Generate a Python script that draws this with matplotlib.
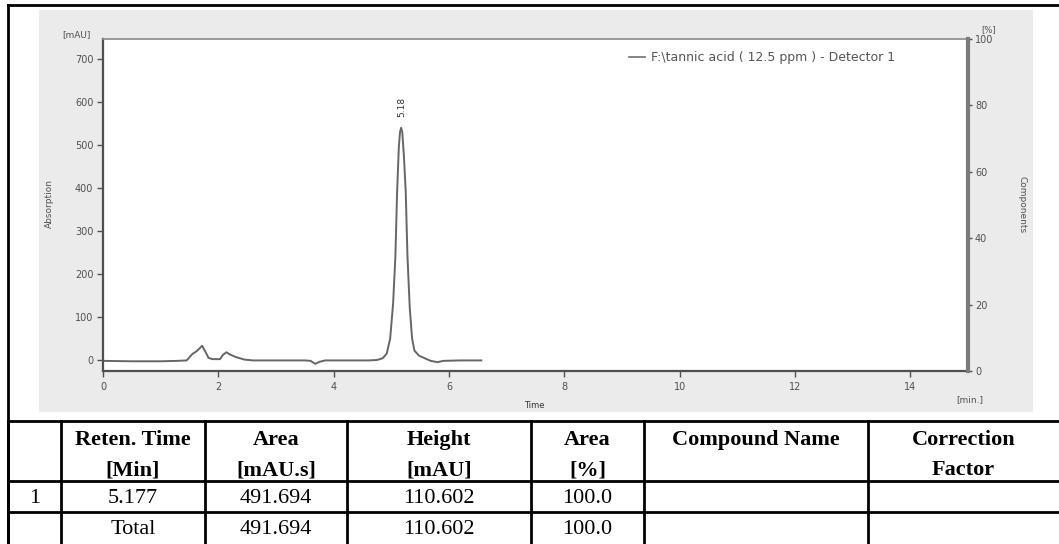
import matplotlib.pyplot as plt
from matplotlib.lines import Line2D
from matplotlib.patches import Rectangle

W, H = 1059, 544

# chromatogram trace (time in min, signal in mAU)
time_min = [0.0, 0.5, 1.0, 1.3, 1.45, 1.55, 1.62, 1.72, 1.78, 1.83, 1.9, 2.03,
            2.08, 2.14, 2.2, 2.3, 2.45, 2.6, 3.0, 3.5, 3.6, 3.68, 3.76, 3.85,
            4.2, 4.6, 4.75, 4.85, 4.92, 4.98, 5.03, 5.07, 5.10, 5.13, 5.15,
            5.17, 5.19, 5.22, 5.25, 5.28, 5.32, 5.36, 5.40, 5.48, 5.58, 5.68,
            5.80, 5.90, 6.2, 6.56]
signal_mau = [-2, -3, -3, -2, -1, 14, 20, 33, 18, 5, 2, 2,
              12, 18, 13, 7, 1, -1, -1, -1, -2, -9, -4, -1,
              -1, -1, 0, 4, 15, 50, 130, 240, 390, 495, 530,
              540, 530, 470, 390, 240, 120, 50, 22, 10, 4, -2,
              -5, -2, -1, -1]
peak_time = 5.18
peak_height = 540

x_ticks = [0, 2, 4, 6, 8, 10, 12, 14]
y_ticks = [0, 100, 200, 300, 400, 500, 600, 700]
pct_ticks = [0, 20, 40, 60, 80, 100]

header_top = ["", "Reten. Time", "Area", "Height", "Area", "Compound Name", "Correction"]
header_bot = ["", "[Min]", "[mAU.s]", "[mAU]", "[%]", "", "Factor"]
row_peak = ["1", "5.177", "491.694", "110.602", "100.0", "", ""]
row_total = ["", "Total", "491.694", "110.602", "100.0", "", ""]
col_edges = [8, 61, 205, 347, 531, 644, 868, 1059]


def fx(px):
    return px / W


def fy(py):
    return 1 - py / H


fig = plt.figure(figsize=(W / 100, H / 100), dpi=100)
fig.patch.set_facecolor("white")

# grey panel behind the chart
fig.add_artist(Rectangle((fx(39), fy(412)), fx(1033) - fx(39), fy(10) - fy(412),
                         transform=fig.transFigure, facecolor="#ebebeb",
                         edgecolor="none", zorder=0))

ax = fig.add_axes([fx(103), fy(371), fx(968) - fx(103), fy(39) - fy(371)])
ax.set_facecolor("white")
ax.plot(time_min, signal_mau, color="#666666", lw=1.4)
ax.set_xlim(0, 15)
ax.set_ylim(-25.6, 746.6)
ax.set_xticks(x_ticks)
ax.set_yticks(y_ticks)
tick_col = "#505050"
ax.tick_params(axis="both", colors=tick_col, labelsize=7, length=4, width=1,
               direction="out", pad=3)
ax.tick_params(axis="x", pad=4)
for s in ["left", "bottom"]:
    ax.spines[s].set_color("#505050")
    ax.spines[s].set_linewidth(1.6)
ax.spines["top"].set_color("#8a8a8a")
ax.spines["top"].set_linewidth(1.2)
ax.spines["right"].set_visible(False)

ax2 = ax.twinx()
ax2.set_ylim(0, 100)
ax2.set_yticks(pct_ticks)
ax2.set_yticklabels([str(t) for t in pct_ticks])
ax2.tick_params(axis="y", colors=tick_col, labelsize=7, length=3, width=1, pad=2)
ax2.spines["right"].set_color("#7a7a7a")
ax2.spines["right"].set_linewidth(3)
for s in ["left", "top", "bottom"]:
    ax2.spines[s].set_visible(False)

# peak label
ax.text(peak_time, peak_height + 25, "5.18", rotation=90, ha="center",
        va="bottom", fontsize=6.5, color="#333333")

# legend
fig.add_artist(Line2D([fx(629), fx(645)], [fy(57), fy(57)], color="#707070", lw=1.2))
fig.text(fx(651), fy(57), "F:\\tannic acid ( 12.5 ppm ) - Detector 1",
         fontsize=9, color="#555555", va="center", ha="left")

# axis annotations
fig.text(fx(76), fy(35), "[mAU]", fontsize=6.5, color=tick_col, ha="center", va="center")
fig.text(fx(989), fy(30), "[%]", fontsize=6, color=tick_col, ha="center", va="center")
fig.text(fx(49), fy(203), "Absorption", rotation=90, fontsize=6.5, color=tick_col,
         ha="center", va="center")
fig.text(fx(1022), fy(205), "Components", rotation=-90, fontsize=6.5, color=tick_col,
         ha="center", va="center")
fig.text(fx(534), fy(406), "Time", fontsize=6, color="#333333", ha="center", va="center")
fig.text(fx(970), fy(400), "[min.]", fontsize=6.5, color=tick_col, ha="center", va="center")

# outer border
fig.add_artist(Line2D([fx(8), fx(8)], [fy(5), fy(544)], color="black", lw=2))
fig.add_artist(Line2D([fx(8), fx(1059)], [fy(5), fy(5)], color="black", lw=2))

# table grid
for y in [421, 481, 512]:
    fig.add_artist(Line2D([fx(8), fx(1059)], [fy(y), fy(y)], color="black", lw=2))
for x in col_edges[:-1]:
    fig.add_artist(Line2D([fx(x), fx(x)], [fy(421), fy(544)], color="black", lw=2))

serif = "Liberation Serif"
for i in range(len(header_top)):
    cx = (col_edges[i] + col_edges[i + 1]) / 2
    fig.text(fx(cx), fy(445), header_top[i], fontsize=16, fontweight="bold",
             family=serif, ha="center", va="baseline")
    fig.text(fx(cx), fy(475), header_bot[i], fontsize=16, fontweight="bold",
             family=serif, ha="center", va="baseline")
    fig.text(fx(cx), fy(503), row_peak[i], fontsize=16, family=serif,
             ha="center", va="baseline")
    fig.text(fx(cx), fy(534), row_total[i], fontsize=16, family=serif,
             ha="center", va="baseline")

fig.savefig("out.png", dpi=100)
